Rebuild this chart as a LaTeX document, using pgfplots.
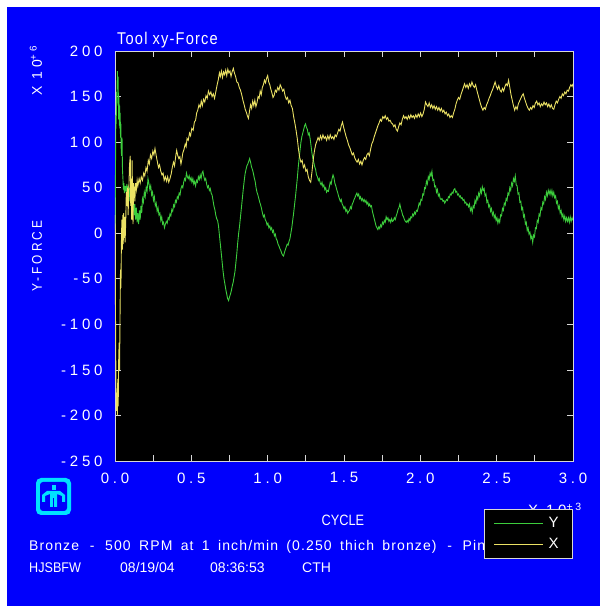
\documentclass[border=0pt]{standalone}
\usepackage{fontspec}
\setmainfont{Liberation Sans}
\newfontfamily\spfont[LetterSpace=25]{Liberation Sans}
\newfontfamily\ftfont[LetterSpace=8]{Liberation Sans}
\usepackage{pgfplots}
\pgfplotsset{compat=1.18}
\definecolor{bgblue}{RGB}{0,0,252}
\definecolor{ygreen}{RGB}{60,205,60}
\definecolor{xyellow}{RGB}{235,225,100}
\definecolor{framegray}{RGB}{215,215,215}
\definecolor{logocyan}{RGB}{0,225,255}
\newcommand\fs[1]{\fontsize{#1}{#1}\selectfont}
\begin{document}
\begin{tikzpicture}[x=1pt,y=1pt]
\useasboundingbox (0,0) rectangle (600,606);
\fill[white] (0,0) rectangle (600,606);
\fill[bgblue] (7,0) rectangle (600,599);
% title and labels
\node[anchor=base west, text=white, inner sep=0pt, font=\ftfont\fs{17}] at (117,561) {\scalebox{0.86}[1]{Tool xy-Force}};
\node[rotate=90, text=white, inner sep=0pt, font=\spfont\fs{14}] at (37,350) {\scalebox{0.85}[1]{Y-FORCE}};
\node[rotate=90, text=white, inner sep=0pt, font=\spfont\fs{14}] at (36,535) {X 10\textsuperscript{+6}};
\node[anchor=base, text=white, inner sep=0pt, font=\fs{15}] at (343,80) {\scalebox{0.85}[1]{CYCLE}};
\node[anchor=base west, text=white, inner sep=0pt, font=\spfont\fs{15}] at (528,90) {X 10\textsuperscript{+3}};
\node[anchor=base west, text=white, inner sep=0pt, font=\ftfont\fs{14}] at (29,55) {\makebox[456pt][s]{Bronze \,-\, 500 RPM at 1 inch/min (0.250 thich bronze) \,-\, Pin}};
\node[anchor=base west, text=white, inner sep=0pt, font=\fs{14}] at (29,34) {\scalebox{0.9}[1]{HJSBFW}};
\node[anchor=base west, text=white, inner sep=0pt, font=\fs{14}] at (120,34) {08/19/04};
\node[anchor=base west, text=white, inner sep=0pt, font=\fs{14}] at (210,34) {08:36:53};
\node[anchor=base west, text=white, inner sep=0pt, font=\fs{14}] at (302,34) {CTH};
% logo
\fill[logocyan, rounded corners=5pt] (36,91) rectangle (71,128);
\fill[bgblue, rounded corners=3pt] (40,95) rectangle (67,124);
\fill[logocyan] (51.5,116) rectangle (55.5,121);
\fill[logocyan] (42,104) -- (42,111) -- (47,115) -- (60,115) -- (65,111) -- (65,104) -- (62,104) -- (62,110) -- (57,112) -- (57,99) -- (50,99) -- (50,112) -- (45,110) -- (45,104) -- cycle;
\fill[bgblue] (52.8,99) rectangle (54.2,108);
\begin{axis}[
  at={(115pt,145pt)}, anchor=south west,
  width=458pt, height=410pt, scale only axis,
  xmin=0, xmax=3000, ymin=-250, ymax=200,
  axis background/.style={fill=black},
  axis line style={framegray, line width=0.9pt},
  xtick={0,250,...,3000},
  xticklabels={0.0,,0.5,,1.0,,1.5,,2.0,,2.5,,3.0},
  ytick={-250,-200,...,200},
  yticklabels={-250,-200,-150,-100,-50,0,50,100,150,200},
  tick align=inside,
  major tick length=6pt,
  tick style={framegray, line width=0.7pt},
  xticklabel style={font=\spfont\fs{15}, text=white, yshift=-8pt},
  yticklabel style={font=\spfont\fs{15}, text=white, xshift=-9pt},
  scaled ticks=false,
  legend style={at={(1,-0.117)}, anchor=north east, fill=black, draw=framegray, line width=0.8pt,
    text=white, font=\fs{15}, inner xsep=9pt, inner ysep=6pt, row sep=5pt,
    nodes={inner xsep=5pt}},
  legend cell align=left,
  legend image code/.code={\draw[#1, line width=1pt] (0pt,0pt) -- (49pt,0pt);},
]
\addplot[ygreen, line width=0.9pt] coordinates {
(0,5) (2,40) (4,90) (6,130) (8,120) (10,155) (12,140) (14,165) (16,178) (18,160) (20,172) (22,150) (24,125) (26,150) (28,118) (30,140) (32,115) (34,132) (36,105) (38,120) (40,95) (43,85) (46,105) (49,70) (52,60) (55,48) (58,55) (61,44) (64,52) (67,46) (70,52) (74,45) (78,54) (82,44) (86,52) (90,40) (94,50) (98,35) (102,45) (106,30) (110,42) (115,25) (120,38) (125,20) (130,32) (135,15) (140,28) (145,12) (150,22) (155,10) (160,25) (165,15) (170,30) (175,22) (180,38) (186,34) (192,45) (198,40) (204,50) (210,46) (216,60) (222,55) (228,48) (234,52) (240,42) (246,45) (252,36) (258,40) (264,30) (270,33) (276,24) (282,28) (288,20) (294,22) (300,14) (306,18) (312,10) (318,12) (324,6) (330,10) (336,13) (342,11) (348,17) (354,15) (360,21) (366,19) (372,26) (378,24) (384,31) (390,29) (396,36) (402,34) (408,40) (414,38) (420,44) (426,42) (432,49) (438,52) (444,50) (450,56) (456,60) (462,58) (468,66) (474,62) (480,60) (486,63) (492,58) (498,61) (504,56) (510,60) (516,54) (522,57) (528,52) (534,58) (540,56) (546,62) (552,59) (558,64) (564,60) (570,66) (576,68) (582,62) (588,58) (594,60) (600,54) (606,50) (612,52) (618,47) (624,49) (630,44) (636,42) (642,36) (648,30) (654,26) (660,20) (666,16) (672,14) (678,8) (684,-2) (690,-12) (696,-22) (702,-32) (708,-42) (714,-50) (720,-56) (726,-62) (732,-67) (738,-72) (744,-74) (750,-70) (756,-67) (762,-63) (768,-58) (774,-54) (780,-48) (786,-42) (792,-32) (798,-22) (804,-10) (810,0) (816,8) (822,18) (828,28) (834,38) (840,48) (846,57) (852,65) (858,70) (864,74) (870,76) (876,79) (882,82) (888,78) (894,73) (900,70) (906,66) (912,61) (918,57) (924,50) (930,45) (936,42) (942,38) (948,34) (954,31) (960,27) (966,22) (972,18) (978,20) (984,15) (990,13) (996,9) (1002,11) (1008,6) (1014,8) (1020,4) (1026,6) (1032,1) (1038,3) (1044,-3) (1050,-1) (1056,-6) (1062,-8) (1068,-12) (1074,-14) (1080,-17) (1086,-19) (1092,-22) (1098,-24) (1104,-25) (1110,-21) (1116,-18) (1122,-15) (1128,-12) (1134,-13) (1140,-9) (1146,-6) (1152,0) (1158,6) (1164,14) (1170,22) (1176,31) (1182,40) (1188,50) (1194,60) (1200,72) (1206,82) (1212,91) (1218,100) (1224,106) (1230,110) (1236,114) (1242,118) (1248,120) (1254,116) (1260,114) (1266,108) (1272,110) (1278,104) (1284,96) (1290,88) (1296,82) (1302,78) (1308,73) (1314,70) (1320,64) (1326,62) (1332,58) (1338,60) (1344,55) (1350,53) (1356,56) (1362,51) (1368,53) (1374,48) (1380,50) (1386,45) (1392,47) (1398,46) (1404,51) (1410,56) (1416,54) (1422,60) (1428,64) (1434,61) (1440,55) (1446,52) (1452,48) (1458,45) (1464,41) (1470,38) (1476,35) (1482,37) (1488,32) (1494,30) (1500,27) (1506,29) (1512,24) (1518,26) (1524,22) (1530,24) (1536,25) (1542,29) (1548,27) (1554,32) (1560,34) (1566,37) (1572,39) (1578,42) (1584,44) (1590,41) (1596,43) (1602,38) (1608,40) (1614,36) (1620,38) (1626,35) (1632,37) (1638,34) (1644,36) (1650,32) (1656,34) (1662,30) (1668,32) (1674,29) (1680,30) (1686,24) (1692,20) (1698,16) (1704,12) (1710,8) (1716,6) (1722,4) (1728,7) (1734,5) (1740,9) (1746,7) (1752,12) (1758,10) (1764,14) (1770,12) (1776,18) (1782,15) (1788,17) (1794,13) (1800,15) (1806,12) (1812,16) (1818,13) (1824,14) (1830,17) (1836,15) (1842,19) (1848,22) (1854,26) (1860,28) (1866,32) (1872,27) (1878,24) (1884,20) (1890,18) (1896,15) (1902,13) (1908,12) (1914,14) (1920,12) (1926,16) (1932,14) (1938,18) (1944,17) (1950,21) (1956,19) (1962,23) (1968,21) (1974,25) (1980,24) (1986,28) (1992,33) (1998,31) (2004,37) (2010,36) (2016,43) (2022,42) (2028,50) (2034,49) (2040,57) (2046,54) (2052,62) (2058,59) (2064,66) (2070,63) (2076,68) (2082,58) (2088,59) (2094,51) (2100,52) (2106,45) (2112,48) (2118,41) (2124,43) (2130,38) (2136,37) (2142,38) (2148,35) (2154,36) (2160,33) (2166,35) (2172,37) (2178,36) (2184,40) (2190,39) (2196,43) (2202,42) (2208,45) (2214,44) (2220,48) (2226,49) (2232,45) (2238,46) (2244,42) (2250,43) (2256,40) (2262,41) (2268,38) (2274,39) (2280,36) (2286,37) (2292,33) (2298,34) (2304,31) (2310,32) (2316,29) (2322,32) (2328,25) (2334,28) (2340,23) (2346,30) (2352,28) (2358,36) (2364,33) (2370,40) (2376,37) (2382,44) (2388,41) (2394,48) (2400,44) (2406,51) (2412,47) (2418,49) (2424,41) (2430,43) (2436,34) (2442,36) (2448,29) (2454,31) (2460,24) (2466,27) (2472,20) (2478,23) (2484,17) (2490,20) (2496,14) (2502,17) (2508,11) (2514,15) (2520,12) (2526,20) (2532,19) (2538,27) (2544,25) (2550,33) (2556,31) (2562,38) (2568,36) (2574,44) (2580,42) (2586,50) (2592,47) (2598,55) (2604,52) (2610,60) (2616,57) (2622,63) (2628,53) (2634,52) (2640,43) (2646,44) (2652,34) (2658,35) (2664,26) (2670,28) (2676,18) (2682,20) (2688,10) (2694,12) (2700,3) (2706,6) (2712,-1) (2718,1) (2724,-6) (2730,-3) (2736,-10) (2742,-2) (2748,-4) (2754,6) (2760,5) (2766,14) (2772,12) (2778,21) (2784,19) (2790,28) (2796,26) (2802,34) (2808,32) (2814,40) (2820,37) (2826,45) (2832,41) (2838,47) (2844,43) (2850,47) (2856,42) (2862,47) (2868,41) (2874,45) (2880,39) (2886,41) (2892,33) (2898,35) (2904,27) (2910,30) (2916,22) (2922,25) (2928,18) (2934,21) (2940,15) (2946,19) (2952,13) (2958,17) (2964,13) (2970,17) (2976,12) (2982,18) (2988,13) (2994,17) (3000,14)
};
\addlegendentry{Y}
\addplot[xyellow, line width=0.9pt] coordinates {
(0,20) (3,-80) (6,-160) (9,-195) (12,-175) (15,-200) (18,-160) (21,-190) (24,-140) (27,-120) (30,-150) (33,-90) (36,-40) (39,-60) (42,-10) (45,15) (48,-18) (51,20) (54,-12) (57,22) (60,-5) (63,18) (66,-10) (70,10) (74,45) (78,30) (82,50) (86,20) (90,45) (95,75) (100,85) (103,30) (106,60) (109,15) (112,80) (115,40) (118,10) (122,55) (126,50) (130,35) (135,55) (140,48) (145,58) (150,52) (158,60) (165,55) (172,62) (180,58) (188,66) (195,63) (203,72) (210,68) (218,80) (225,76) (232,86) (240,82) (248,90) (255,86) (262,93) (270,85) (278,78) (285,72) (292,75) (300,68) (308,64) (315,66) (322,58) (330,62) (338,57) (345,62) (352,56) (360,60) (368,65) (375,72) (383,78) (390,74) (398,85) (404,91) (410,86) (418,82) (425,84) (432,76) (437,80) (444,88) (452,92) (460,98) (466,95) (472,104) (480,102) (488,110) (495,107) (503,115) (512,113) (520,122) (528,124) (535,132) (542,135) (550,141) (558,138) (565,145) (572,140) (580,147) (588,144) (596,151) (604,148) (612,156) (620,152) (628,155) (636,150) (644,153) (652,148) (660,155) (668,162) (676,168) (684,176) (690,172) (697,178) (704,171) (711,177) (718,174) (725,179) (732,173) (739,180) (746,176) (753,178) (760,172) (767,177) (775,181) (782,176) (790,172) (798,166) (806,165) (814,160) (822,157) (830,152) (838,146) (846,141) (853,136) (860,133) (867,129) (874,126) (881,134) (888,141) (895,137) (902,145) (909,140) (916,146) (923,139) (930,143) (937,150) (944,148) (951,156) (958,152) (965,160) (972,163) (979,168) (986,165) (993,170) (1000,173) (1007,166) (1014,163) (1021,158) (1028,154) (1035,149) (1042,151) (1050,157) (1058,155) (1066,160) (1074,157) (1082,163) (1090,160) (1098,156) (1106,158) (1114,151) (1122,147) (1130,149) (1138,143) (1146,146) (1154,140) (1162,137) (1170,128) (1178,121) (1186,113) (1194,104) (1202,92) (1210,83) (1218,78) (1226,80) (1234,72) (1242,75) (1250,68) (1258,70) (1266,62) (1274,58) (1282,56) (1290,67) (1298,80) (1306,90) (1314,97) (1322,101) (1330,105) (1338,102) (1346,107) (1354,103) (1362,108) (1370,104) (1378,106) (1386,102) (1394,107) (1402,103) (1410,108) (1418,104) (1426,106) (1434,103) (1442,108) (1450,106) (1458,110) (1466,114) (1474,112) (1482,118) (1490,122) (1498,116) (1506,111) (1514,106) (1522,102) (1530,97) (1538,94) (1546,90) (1554,86) (1562,88) (1570,83) (1578,80) (1586,78) (1594,81) (1602,76) (1610,79) (1618,75) (1626,80) (1634,83) (1642,81) (1650,86) (1658,88) (1666,85) (1674,92) (1682,98) (1690,101) (1698,106) (1706,110) (1714,114) (1722,118) (1730,121) (1738,125) (1746,123) (1754,128) (1762,126) (1770,129) (1778,125) (1786,127) (1794,123) (1802,124) (1810,121) (1818,120) (1826,117) (1834,119) (1842,114) (1850,112) (1858,117) (1866,121) (1874,119) (1882,125) (1890,129) (1898,126) (1906,128) (1914,125) (1922,129) (1930,126) (1938,130) (1946,127) (1954,129) (1962,126) (1970,130) (1978,127) (1986,131) (1994,128) (2002,132) (2010,128) (2018,131) (2026,136) (2034,144) (2042,141) (2050,139) (2058,143) (2066,138) (2074,141) (2082,137) (2090,140) (2098,136) (2106,139) (2114,135) (2122,138) (2130,134) (2138,137) (2146,133) (2154,135) (2162,131) (2170,133) (2178,129) (2186,131) (2194,127) (2202,129) (2210,127) (2218,132) (2226,136) (2234,142) (2242,146) (2250,149) (2258,147) (2266,152) (2274,156) (2282,160) (2290,164) (2298,160) (2306,163) (2314,159) (2322,164) (2330,161) (2338,166) (2346,162) (2354,160) (2362,163) (2370,157) (2378,152) (2386,147) (2394,142) (2402,138) (2410,135) (2418,138) (2426,136) (2434,141) (2442,144) (2450,148) (2458,151) (2466,155) (2474,158) (2482,162) (2490,166) (2498,161) (2506,158) (2514,162) (2522,157) (2530,155) (2538,159) (2546,156) (2554,161) (2562,164) (2570,162) (2578,168) (2586,160) (2594,152) (2602,146) (2610,140) (2618,135) (2626,139) (2634,136) (2642,142) (2650,145) (2658,148) (2666,151) (2674,153) (2682,148) (2690,144) (2698,140) (2706,137) (2714,135) (2722,138) (2730,136) (2738,140) (2746,138) (2754,143) (2762,145) (2770,141) (2778,143) (2786,139) (2794,142) (2802,140) (2810,144) (2818,141) (2826,143) (2834,139) (2842,142) (2850,138) (2858,141) (2866,137) (2874,136) (2882,141) (2890,145) (2898,143) (2906,147) (2914,150) (2922,148) (2930,153) (2938,151) (2946,155) (2954,153) (2962,157) (2970,156) (2978,160) (2986,163) (2994,161) (3000,164)
};
\addlegendentry{X}
\end{axis}
\end{tikzpicture}
\end{document}
